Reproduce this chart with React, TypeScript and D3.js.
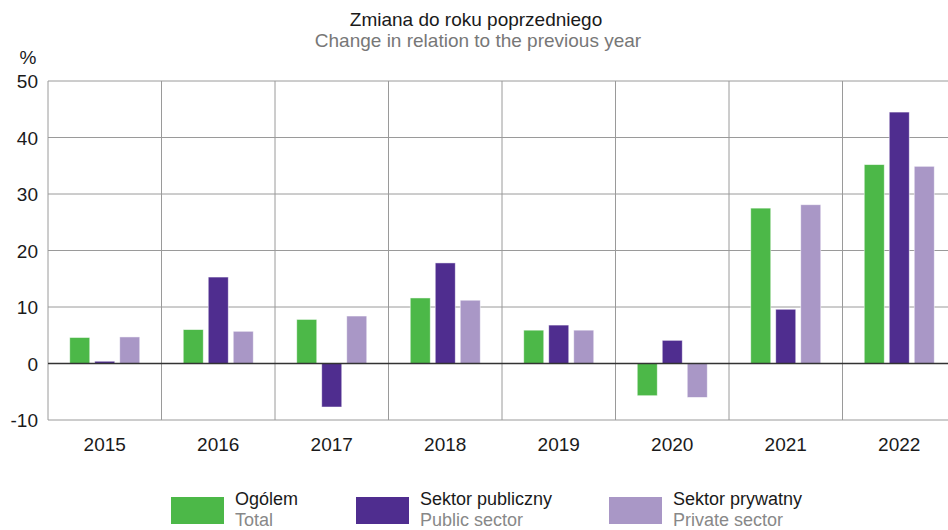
import React from 'react';
import { scaleLinear, scaleBand, range } from 'd3';

const years = ['2015', '2016', '2017', '2018', '2019', '2020', '2021', '2022'];
const total = [4.6, 6.0, 7.8, 11.6, 5.9, -5.7, 27.5, 35.2];
const publicSector = [0.4, 15.3, -7.7, 17.8, 6.8, 4.1, 9.6, 44.5];
const privateSector = [4.7, 5.7, 8.4, 11.2, 5.9, -6.0, 28.1, 34.9];
const yTicks = [-10, 0, 10, 20, 30, 40, 50];

const seriesNames = [
  { pl: 'Ogólem', en: 'Total', color: '#4cb848', values: total },
  { pl: 'Sektor publiczny', en: 'Public sector', color: '#4f2d8f', values: publicSector },
  { pl: 'Sektor prywatny', en: 'Private sector', color: '#a997c6', values: privateSector },
];

const legendX = [171, 356, 609];

export default function App() {
  const width = 948
  const height = 530
  const left = 48
  const top = 81
  const plotRight = 956
  const bottom = 420

  const x = scaleBand().domain(years).range([left, plotRight]).padding(0)
  const y = scaleLinear().domain([-10, 50]).range([bottom, top])
  const barW = 20
  const step = 25
  const font = '"Liberation Sans", Arial, sans-serif'
  const fs = 19
  const legendFs = 18

  return (
    <svg width={width} height={height} style={{ display: 'block', position: 'absolute', left: 0, top: 0 }} fontFamily={font}>
      <rect width={width} height={height} fill="#fff" />
      <text x={476} y={26} textAnchor="middle" fontSize={fs} fill="#1a1a1a">Zmiana do roku poprzedniego</text>
      <text x={478} y={47} textAnchor="middle" fontSize={fs} fill="#777">Change in relation to the previous year</text>
      <text x={28} y={64} textAnchor="middle" fontSize={fs} fill="#1a1a1a">%</text>

      {/* grid */}
      {yTicks.map(t => (
        <g key={t}>
          {t !== 0 && <line x1={left} x2={plotRight} y1={y(t)} y2={y(t)} stroke="#9a9a9a" strokeWidth={1} />}
          <text x={38} y={y(t) + 7} textAnchor="end" fontSize={fs} fill="#1a1a1a">{t}</text>
        </g>
      ))}
      {range(years.length + 1).map(i => {
        const xx = left + i * x.bandwidth()
        return <line key={i} x1={xx} x2={xx} y1={top} y2={bottom} stroke="#9a9a9a" strokeWidth={1} />
      })}

      {/* bars */}
      {seriesNames.map((s, si) => (
        <g key={s.en}>
          {s.values.map((v, i) => {
            const cx = (x(years[i]) as number) + x.bandwidth() / 2
            const bx = cx - barW / 2 + (si - 1) * step
            const y0 = y(0)
            const y1 = y(v)
            return (
              <rect key={i} x={bx} y={Math.min(y0, y1)} width={barW} height={Math.abs(y1 - y0)}
                fill={s.color} stroke="#fff" strokeOpacity={0.6} strokeWidth={0.8} />
            )
          })}
        </g>
      ))}

      <line x1={left} x2={plotRight} y1={y(0)} y2={y(0)} stroke="#333" strokeWidth={1.3} />

      {years.map(yr => (
        <text key={yr} x={(x(yr) as number) + x.bandwidth() / 2} y={451} textAnchor="middle" fontSize={fs} fill="#1a1a1a">{yr}</text>
      ))}

      {/* legend */}
      {seriesNames.map((s, si) => (
        <g key={s.en} transform={`translate(${legendX[si]},0)`}>
          <rect x={0} y={497} width={53} height={27} fill={s.color} />
          <text x={64} y={505} fontSize={legendFs} fill="#1a1a1a">{s.pl}</text>
          <text x={64} y={526} fontSize={legendFs} fill="#888">{s.en}</text>
        </g>
      ))}
    </svg>
  );
}
